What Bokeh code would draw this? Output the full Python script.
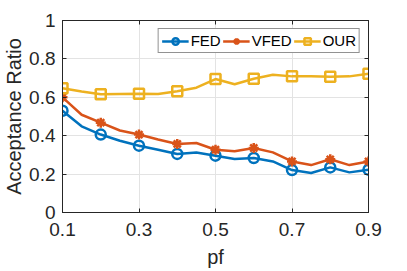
from bokeh.plotting import figure
from bokeh.models import LinearAxis, Range1d, FixedTicker, Legend, LegendItem, CustomJSTickFormatter
from bokeh.embed import file_html
from bokeh.resources import INLINE

pf = [0.1, 0.15, 0.2, 0.25, 0.3, 0.35, 0.4, 0.45, 0.5, 0.55, 0.6, 0.65, 0.7, 0.75, 0.8, 0.85, 0.9]
fed = [0.53, 0.449, 0.406, 0.374, 0.348, 0.327, 0.305, 0.312, 0.296, 0.279, 0.284, 0.266, 0.221, 0.206, 0.235, 0.209, 0.223]
vfed = [0.60, 0.509, 0.468, 0.427, 0.406, 0.38, 0.357, 0.362, 0.327, 0.319, 0.336, 0.313, 0.266, 0.247, 0.277, 0.247, 0.266]
our = [0.647, 0.63, 0.616, 0.617, 0.618, 0.617, 0.632, 0.65, 0.695, 0.668, 0.697, 0.717, 0.709, 0.709, 0.707, 0.709, 0.723]
x_ticks = [0.1, 0.3, 0.5, 0.7, 0.9]
y_ticks = [0, 0.2, 0.4, 0.6, 0.8, 1]

FONT = "Liberation Sans"
AX = "#262626"

p = figure(width=407, height=271, output_backend="svg", toolbar_location=None,
           x_range=Range1d(0.1, 0.9), y_range=Range1d(0, 1),
           min_border_left=62, min_border_right=39, min_border_top=20, min_border_bottom=59,
           x_axis_label="pf", y_axis_label="Acceptance Ratio")
p.outline_line_color = AX
p.background_fill_color = "white"
p.border_fill_color = "white"

for ax in [p.xaxis[0], p.yaxis[0]]:
    ax.major_tick_in = 4
    ax.major_tick_out = 0
    ax.minor_tick_in = 0
    ax.minor_tick_out = 0
    ax.axis_line_color = AX
    ax.major_tick_line_color = AX
    ax.major_label_text_font = FONT
    ax.major_label_text_font_size = "19px"
    ax.major_label_text_color = AX
    ax.axis_label_text_font = FONT
    ax.axis_label_text_font_size = "20px"
    ax.axis_label_text_font_style = "normal"
    ax.axis_label_text_color = AX
p.xaxis.ticker = FixedTicker(ticks=x_ticks)
p.yaxis.ticker = FixedTicker(ticks=y_ticks)
p.yaxis.major_label_overrides = {0: "0", 1: "1"}
p.xaxis.major_label_standoff = 10
p.yaxis.major_label_standoff = 7
p.xaxis.axis_label_standoff = 7
p.yaxis.axis_label_standoff = 1

blank = CustomJSTickFormatter(code="return ''")
for loc, tk in [("above", x_ticks), ("right", y_ticks)]:
    a = LinearAxis(ticker=FixedTicker(ticks=tk), formatter=blank, major_tick_in=4, major_tick_out=0,
                   minor_tick_in=0, minor_tick_out=0, major_label_text_color=None,
                   axis_line_color=AX, major_tick_line_color=AX, major_label_standoff=0)
    p.add_layout(a, loc)

p.xgrid.ticker = FixedTicker(ticks=x_ticks)
p.ygrid.ticker = FixedTicker(ticks=y_ticks)
p.xgrid.grid_line_color = "#e3e3e3"
p.ygrid.grid_line_color = "#e3e3e3"

colors = ["#0072BD", "#D95319", "#EDB120"]
names = ["FED", "VFED", "OUR"]
markers = ["circle", "asterisk", "square"]
items = []
for ys, c, n, m in zip([fed, vfed, our], colors, names, markers):
    ln = p.line(pf, ys, line_color=c, line_width=2.5)
    sc = p.scatter(pf[::2], ys[::2], marker=m, size=10, line_color=c, line_width=2.5,
                   fill_color=None)
    items.append(LegendItem(label=n, renderers=[ln, sc]))

legend = Legend(items=items, orientation="horizontal", location="top_right",
                label_text_font=FONT, label_text_font_size="15px", label_text_color="black",
                glyph_width=27, glyph_height=16, label_standoff=2, spacing=2,
                padding=3, margin=8, border_line_color=AX, background_fill_alpha=1,
                label_height=16)
p.add_layout(legend, "center")

open("out.html", "w").write(file_html(p, INLINE))
